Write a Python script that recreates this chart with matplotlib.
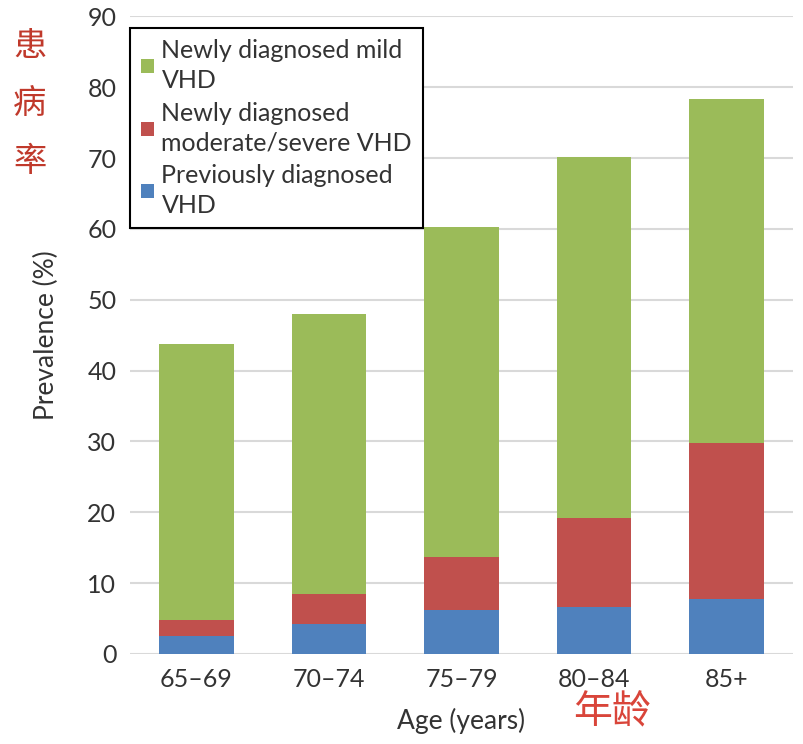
import numpy as np
import matplotlib
matplotlib.use("Agg")
import matplotlib.pyplot as plt

# age groups and stacked prevalence (%)
ages = ["65–69", "70–74", "75–79", "80–84", "85+"]
previous = np.array([2.5, 4.2, 6.2, 6.6, 7.8])
mod_severe = np.array([2.3, 4.2, 7.5, 12.6, 22.0])
mild = np.array([39.0, 39.6, 46.5, 50.9, 48.5])

plt.rcParams['font.family'] = ['Lato', 'DejaVu Sans']

fig = plt.figure(figsize=(8.04, 7.44), dpi=100)
ax = fig.add_axes([0.162, 0.121, 0.824, 0.857])

x = np.arange(len(ages))
w = 0.56
b1 = ax.bar(x, previous, w, color='#4F81BD', label='Previously diagnosed\nVHD', zorder=3)
b2 = ax.bar(x, mod_severe, w, bottom=previous, color='#C0504D',
            label='Newly diagnosed\nmoderate/severe VHD', zorder=3)
b3 = ax.bar(x, mild, w, bottom=previous + mod_severe, color='#9BBB59',
            label='Newly diagnosed mild\nVHD', zorder=3)

ax.set_xlim(-0.5, 4.5)
ax.set_ylim(0, 90)
ax.set_yticks(np.arange(0, 91, 10))
ax.set_xticks(x)
ax.set_xticklabels(ages)
ax.tick_params(axis='both', length=0, labelsize=18, colors='#333333', pad=10)
ax.yaxis.grid(True, color='#d9d9d9', linewidth=1.5, zorder=0)
for s in ax.spines.values():
    s.set_visible(False)

ax.set_ylabel('Prevalence (%)', fontsize=19, color='#333333', labelpad=20)
ax.set_xlabel('Age (years)', fontsize=19, color='#333333', labelpad=12)

leg = ax.legend(handles=[b3, b2, b1], loc='upper left', bbox_to_anchor=(0.0, 0.982),
                borderaxespad=0, fontsize=18, handlelength=0.5, handleheight=0.5,
                handletextpad=0.3, labelspacing=0.4, fancybox=False, framealpha=1,
                borderpad=0.45)
leg.get_frame().set_edgecolor('black')
leg.get_frame().set_linewidth(1.5)
for t in leg.get_texts():
    t.set_color('#333333')
    t.set_linespacing(1.35)

# red Chinese annotations
cjk = ['Noto Sans CJK SC', 'DejaVu Sans']
for i, ch in enumerate("患病率"):
    fig.text(30 / 804, 1 - (47 + 57 * i) / 744, ch, family=cjk, fontsize=24,
             color='#C0392B', ha='center', va='center')
fig.text(612 / 804, 1 - 712 / 744, "年龄", family=cjk, fontsize=28,
         color='#D9453A', ha='center', va='center')

fig.savefig('out.png', dpi=100)
